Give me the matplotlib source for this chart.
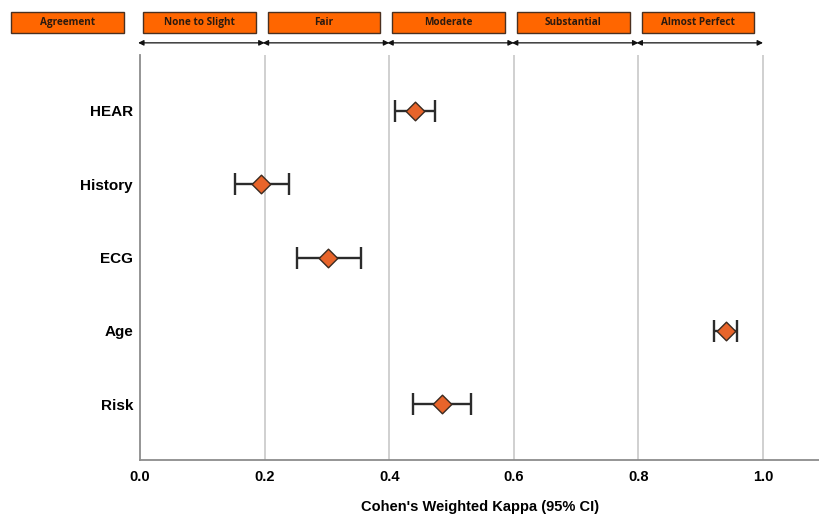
import matplotlib.pyplot as plt
from matplotlib.patches import Rectangle

# data
labels = ["HEAR", "History", "ECG", "Age", "Risk"]
kappa = [0.442, 0.195, 0.302, 0.940, 0.484]
ci_low = [0.410, 0.153, 0.252, 0.921, 0.439]
ci_high = [0.474, 0.239, 0.355, 0.958, 0.531]

bands = ["None to Slight", "Fair", "Moderate", "Substantial", "Almost Perfect"]
band_starts = [0.0, 0.2, 0.4, 0.6, 0.8]
xticks = [0.0, 0.2, 0.4, 0.6, 0.8, 1.0]

plt.rcParams["font.family"] = ["Liberation Sans", "DejaVu Sans"]

fig = plt.figure(figsize=(8.2, 5.19), dpi=100)
ax = fig.add_axes([140 / 820, 59 / 519, 680 / 820, 405 / 519])

y = list(range(len(labels)))
err = [[k - lo for k, lo in zip(kappa, ci_low)],
       [hi - k for k, hi in zip(kappa, ci_high)]]
ax.errorbar(kappa, y, xerr=err, fmt="none", ecolor="#2b2b2b", elinewidth=1.7,
            capsize=8, capthick=1.7, zorder=3)
ax.scatter(kappa, y, marker="D", s=90, facecolor="#E8642A", edgecolor="#3a2a20",
           linewidth=1.0, zorder=4)

ax.set_xlim(0, 680 / 623)
ax.set_ylim(4.76, -0.76)
ax.set_yticks(y)
ax.set_yticklabels(labels, fontsize=11, fontweight="bold")
ax.set_xticks(xticks)
ax.set_xticklabels([f"{t:.1f}" for t in xticks], fontsize=10.5, fontweight="bold")
ax.tick_params(length=0, pad=7)
ax.tick_params(axis="y", pad=5)
ax.set_xlabel("Cohen's Weighted Kappa (95% CI)", fontsize=10.5, fontweight="bold",
              labelpad=12)

for t in xticks[1:]:
    ax.axvline(t, color="#c8c8c8", lw=1.2, zorder=1)
for side in ["top", "right"]:
    ax.spines[side].set_visible(False)
ax.spines["left"].set_color("#8c8c8c")
ax.spines["bottom"].set_color("#8c8c8c")
ax.spines["left"].set_linewidth(1.3)
ax.spines["bottom"].set_linewidth(1.3)

# band headers over the plot
tr = ax.get_xaxis_transform()
box_w = 0.181
box_y0, box_h = 1.054, 0.052
header_x = [-0.207] + [s + 0.005 for s in band_starts]
header_txt = ["Agreement"] + bands
for x0, txt in zip(header_x, header_txt):
    ax.add_patch(Rectangle((x0, box_y0), box_w, box_h, transform=tr, clip_on=False,
                           facecolor="#FF6600", edgecolor="#4a3020", lw=1.0))
    ax.text(x0 + box_w / 2, box_y0 + box_h / 2, txt, transform=tr, ha="center",
            va="center", fontsize=7.2, fontweight="bold", color="#2a1a10",
            family=["Open Sans", "DejaVu Sans"])

for s in band_starts:
    ax.annotate("", xy=(s - 0.003, 1.03), xytext=(s + 0.2, 1.03),
                xycoords=tr, textcoords=tr, annotation_clip=False,
                arrowprops=dict(arrowstyle="<|-|>", color="#111111", lw=0.9,
                                mutation_scale=8, shrinkA=0, shrinkB=0))

fig.savefig("out.png", dpi=100)
